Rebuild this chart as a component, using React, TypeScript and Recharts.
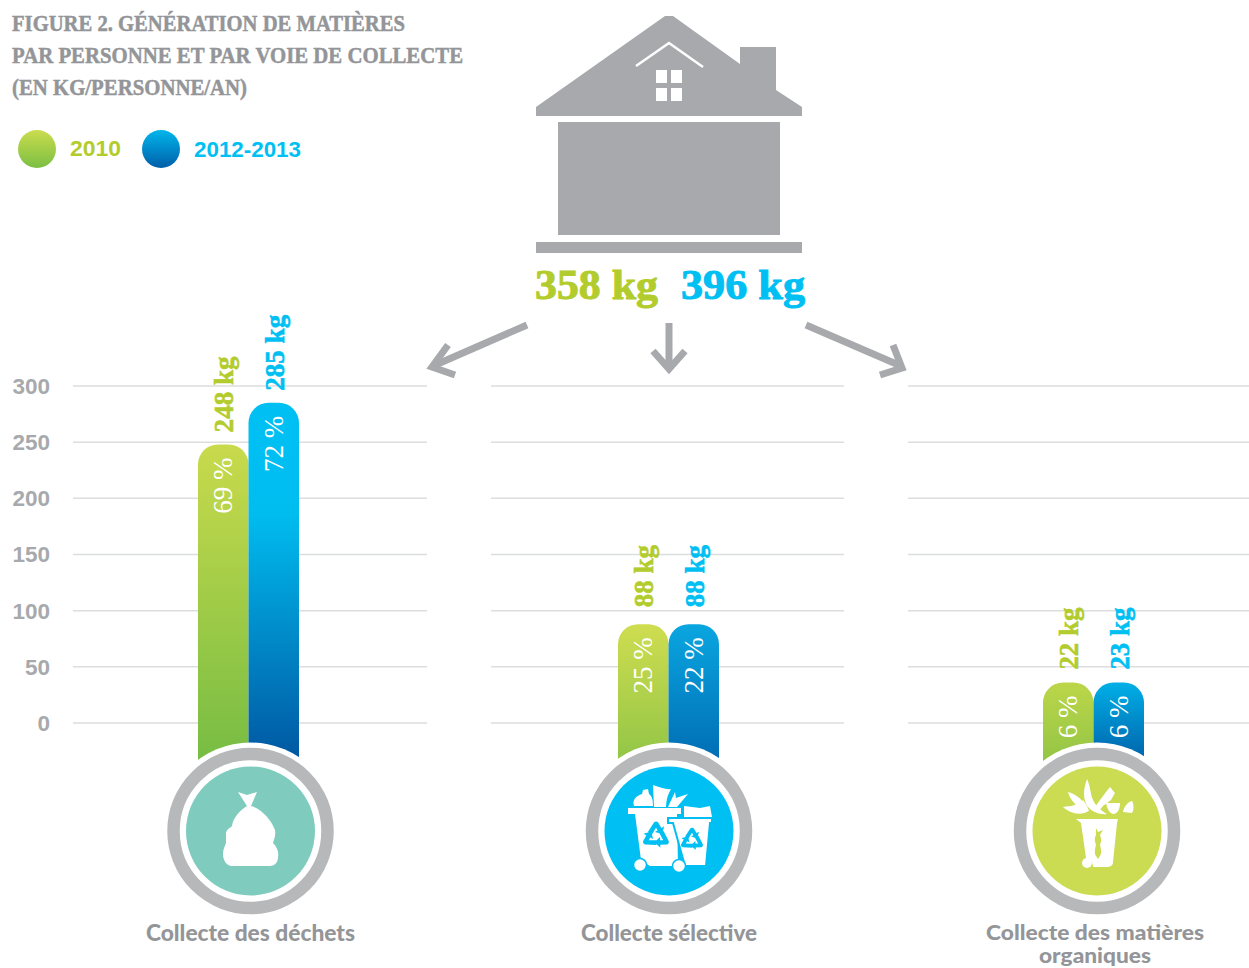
import React from "react";
import { BarChart, Bar, XAxis, YAxis, CartesianGrid, LabelList } from "recharts";

const GREY = "#a7a9ac";
const TITLE_GREY = "#939598";
const GREEN = "#b3cc2d";
const BLUE = "#00bff3";
const SLAB = "'Liberation Serif', serif";

const titleLines = [
  "FIGURE 2. GÉNÉRATION DE MATIÈRES",
  "PAR PERSONNE ET PAR VOIE DE COLLECTE",
  "(EN KG/PERSONNE/AN)",
];
const legendLabels = ["2010", "2012-2013"];
const totals = ["358 kg", "396 kg"];
const yTicks = [0, 50, 100, 150, 200, 250, 300];

// bars run on below zero until they disappear behind the round badges
const barFoot = -40;
const categories = ["Collecte des déchets", "Collecte sélective", "Collecte des matières organiques"];
// bar tops as read against the grid. The organic bars are drawn taller (about 36) than their 22 and 23 kg labels
const barTop2010 = [248, 88, 36];
const barTop2012 = [285, 88, 36];
const kg2010 = ["248 kg", "88 kg", "22 kg"];
const kg2012 = ["285 kg", "88 kg", "23 kg"];
const share2010 = ["69 %", "25 %", "6 %"];
const share2012 = ["72 %", "22 %", "6 %"];

const rowFor = (i: number) => [
  {
    name: categories[i],
    a: [barFoot, barTop2010[i]],
    b: [barFoot, barTop2012[i]],
    kgA: kg2010[i],
    kgB: kg2012[i],
    shareA: share2010[i],
    shareB: share2012[i],
  },
];

const kgLabel = (fill: string, gap: number) => (props: any) => {
  const { x, y, width, value } = props;
  const tx = x + width / 2 + 10;
  const ty = y - gap;
  return (
    <text
      x={tx}
      y={ty}
      transform={`rotate(-90 ${tx} ${ty})`}
      fill={fill}
      stroke={fill}
      strokeWidth={0.6}
      fontFamily={SLAB}
      fontWeight={700}
      fontSize={27}
      textLength={String(value).length > 5 ? 76 : 62}
      lengthAdjust="spacingAndGlyphs"
    >
      {value}
    </text>
  );
};

const shareLabel = (props: any) => {
  const { x, y, width, value } = props;
  const tx = x + width / 2 + 9;
  const ty = y + 13;
  return (
    <text
      x={tx}
      y={ty}
      transform={`rotate(-90 ${tx} ${ty})`}
      textAnchor="end"
      fill="#ffffff"
      fontFamily={SLAB}
      fontSize={27}
    >
      {value}
    </text>
  );
};

interface IPanelProps {
  index: number;
  left: number;
  width: number;
  showAxis?: boolean;
  padLeft: number;
  padRight: number;
  kgGap: number;
  greenStops: string[];
  blueStops: [string, string][];
}

const Panel: React.FunctionComponent<IPanelProps> = ({
  index,
  left,
  width,
  showAxis,
  padLeft,
  padRight,
  kgGap,
  greenStops,
  blueStops,
}) => (
  <div style={{ position: "absolute", left, top: 0 }}>
    <BarChart
      width={width}
      height={800}
      data={rowFor(index)}
      margin={{ top: 341, right: 0, bottom: 32, left: 0 }}
      barGap={0}
      barSize={50.5}
      style={{ overflow: "visible" }}
    >
      <defs>
        <linearGradient id={`green${index}`} x1="0" y1="0" x2="0" y2="1">
          <stop offset="0" stopColor={greenStops[0]} />
          <stop offset="1" stopColor={greenStops[1]} />
        </linearGradient>
        <linearGradient id={`blue${index}`} x1="0" y1="0" x2="0" y2="1">
          {blueStops.map(([o, c]) => (
            <stop key={o} offset={o} stopColor={c} />
          ))}
        </linearGradient>
      </defs>
      <CartesianGrid vertical={false} stroke="#dcddde" strokeWidth={1.5} horizontalValues={yTicks} />
      <XAxis dataKey="name" hide padding={{ left: padLeft, right: padRight }} />
      <YAxis
        hide={!showAxis}
        width={73}
        domain={[-40, 340]}
        ticks={yTicks}
        axisLine={false}
        tickLine={false}
        tickSize={0}
        tickMargin={23}
        tick={{
          fill: GREY,
          fontFamily: "'Liberation Sans', sans-serif",
          fontWeight: 700,
          fontSize: 22.5,
        }}
      />
      <Bar dataKey="a" fill={`url(#green${index})`} radius={[20, 20, 0, 0]} isAnimationActive={false}>
        <LabelList dataKey="kgA" content={kgLabel(GREEN, kgGap)} />
        <LabelList dataKey="shareA" content={shareLabel} />
      </Bar>
      <Bar dataKey="b" fill={`url(#blue${index})`} radius={[20, 20, 0, 0]} isAnimationActive={false}>
        <LabelList dataKey="kgB" content={kgLabel(BLUE, kgGap)} />
        <LabelList dataKey="shareB" content={shareLabel} />
      </Bar>
    </BarChart>
  </div>
);

const House = () => (
  <g fill={GREY}>
    <path d="M665 16 L673 16 L740 64 L740 47 L776 47 L776 90 L802 107 L802 116 L536 116 L536 107 Z" />
    <rect x={558} y={122} width={222} height={113} />
    <rect x={536} y={242} width={266} height={11} />
    <path d="M636 66 L669 43 L703 67" fill="none" stroke="#fff" strokeWidth={2.5} />
    <g fill="#fff">
      <rect x={656} y={70} width={11} height={13} />
      <rect x={671} y={70} width={11} height={13} />
      <rect x={656} y={88} width={11} height={13} />
      <rect x={671} y={88} width={11} height={13} />
    </g>
  </g>
);

const Arrows = () => (
  <g fill="none" stroke={GREY} strokeWidth={7}>
    <path d="M527 325 L433 366" />
    <path d="M448 345 L432 367 L455 375" />
    <path d="M669 323 L669 368" />
    <path d="M653 351 L669 369 L685 351" />
    <path d="M806 325 L901 366" />
    <path d="M893 345 L902 368 L880 375" />
  </g>
);

const Badge = ({ cx, fill }: { cx: number; fill: string }) => (
  <g>
    <circle cx={cx} cy={831} r={88.5} fill="#fff" />
    <circle cx={cx} cy={831} r={77} fill="#fff" stroke="#b7b8ba" strokeWidth={12.5} />
    <circle cx={cx} cy={831} r={64.5} fill={fill} />
  </g>
);

const Bag = () => (
  <path
    fill="#fff"
    d="M238 792 L247 795 L257 792 L251 806 C262 809 271 820 275 830 C276 835 274 840 273 843 C277 847 279 852 278 857 C278 863 274 866 270 866 L232 866 C227 866 223 861 223 854 C223 849 225 846 226 843 L226 833 C227 829 230 828 232 826 C233 818 240 810 247 806 Z"
  />
);

const RecycleMark = ({ cx, cy, size, color }: { cx: number; cy: number; size: number; color: string }) => (
  <g transform={`translate(${cx} ${cy}) scale(${size})`} fill={color}>
    {[0, 120, 240].map((a) => (
      <path
        key={a}
        transform={`rotate(${a})`}
        d="M-6 -3 L-1.5 -10 C-0.5 -11 0.8 -11 1.6 -10 L4 -6 L6 -7.2 L4.6 -1.4 L-0.8 -3 L1.2 -4.2 L0 -6.2 L-3 -1.2 Z"
      />
    ))}
  </g>
);

const Bins = () => (
  <g fill="#fff">
    <path d="M634 806 C632 800 636 796 642 794 L643 790 L648 789 L649 794 C652 796 653 800 653 806 Z" />
    <path d="M654 807 L653 785 C660 787 666 790 671 789 C668 794 666 800 666 807 Z" />
    <path d="M668 807 L675 792 L676 798 L688 794 L677 807 Z" />
    <path d="M684 818 L684 806 L700 808 L710 806 L712 817 Z" />
    <rect x={628} y={808} width={53} height={6} />
    <path d="M635 814 L677 814 L678 866 L650 866 L641 860 Z" />
    <circle cx={640} cy={865} r={6.5} stroke={BLUE} strokeWidth={1.5} />
    <path d="M668 818 L712 818 L712 823 L710 823 L706 866 L685 866 L673 823 L668 823 Z" stroke={BLUE} strokeWidth={2} />
    <circle cx={679} cy={866} r={6.5} stroke={BLUE} strokeWidth={1.5} />
    <RecycleMark cx={656} cy={836} size={1.35} color={BLUE} />
    <RecycleMark cx={692} cy={840} size={1.15} color={BLUE} />
  </g>
);

const OrganicBin = () => (
  <g fill="#fff">
    <path d="M1087 779 C1083 790 1083 798 1087 806 C1092 812 1100 815 1107 814 C1100 810 1093 804 1091 794 C1090 788 1089 783 1087 779 Z" />
    <path d="M1063 807 C1072 806 1078 805 1083 800 C1086 804 1088 808 1089 811 C1082 815 1072 815 1063 807 Z" />
    <path d="M1068 792 C1075 794 1079 797 1083 802 L1077 806 C1073 802 1069 797 1068 792 Z" />
    <path d="M1095 807 L1100 800 L1106 792 L1110 787 L1115 793 L1111 800 L1103 806 L1098 812 Z" />
    <path d="M1106 803 L1120 803 C1120 810 1117 814 1113 814 C1109 813 1107 808 1106 803 Z" />
    <path d="M1123 812 C1124 806 1128 802 1132 801 C1134 804 1134 810 1132 813 Z" />
    <path d="M1076 819 L1118 819 L1117 823 L1113 862 C1113 866 1110 867 1106 867 L1093 867 C1093 862 1090 859 1086 858 L1081 823 Z" />
    <circle cx={1087} cy={863} r={5} />
    <path
      fill="#cbdb52"
      d="M1096 828 L1098 832 L1103 830 L1100 835 C1102 840 1101 842 1100 845 C1101 849 1102 853 1100 856 L1098 859 L1096 856 C1094 853 1095 849 1096 845 C1095 842 1094 838 1096 835 Z"
    />
  </g>
);

const Overlay = () => (
  <svg
    width={1249}
    height={968}
    style={{ position: "absolute", left: 0, top: 0, display: "block" }}
  >
    <defs>
      <linearGradient id="legendGreen" x1="0" y1="0" x2="0" y2="1">
        <stop offset="0" stopColor="#cbdc4e" />
        <stop offset="1" stopColor="#7bbf43" />
      </linearGradient>
      <linearGradient id="legendBlue" x1="0" y1="0" x2="0" y2="1">
        <stop offset="0" stopColor="#00b6ec" />
        <stop offset="1" stopColor="#005fa9" />
      </linearGradient>
    </defs>

    <g fill={TITLE_GREY} stroke={TITLE_GREY} strokeWidth={0.5} fontFamily={SLAB} fontWeight={700} fontSize={23}>
      <text x={12} y={31} textLength={393} lengthAdjust="spacingAndGlyphs">{titleLines[0]}</text>
      <text x={12} y={63} textLength={451} lengthAdjust="spacingAndGlyphs">{titleLines[1]}</text>
      <text x={12} y={95} textLength={235} lengthAdjust="spacingAndGlyphs">{titleLines[2]}</text>
    </g>

    <circle cx={37} cy={149} r={19} fill="url(#legendGreen)" />
    <circle cx={161} cy={149} r={19} fill="url(#legendBlue)" />
    <g fontFamily="'Liberation Sans', sans-serif" fontWeight={700} fontSize={22}>
      <text x={70} y={156} fill={GREEN} textLength={51} lengthAdjust="spacingAndGlyphs">{legendLabels[0]}</text>
      <text x={194} y={157} fill={BLUE} textLength={107} lengthAdjust="spacingAndGlyphs">{legendLabels[1]}</text>
    </g>

    <House />
    <g fontFamily={SLAB} fontWeight={700} fontSize={43} strokeWidth={1}>
      <text x={535} y={299} fill={GREEN} stroke={GREEN} textLength={123} lengthAdjust="spacingAndGlyphs">{totals[0]}</text>
      <text x={681} y={299} fill={BLUE} stroke={BLUE} textLength={124} lengthAdjust="spacingAndGlyphs">{totals[1]}</text>
    </g>
    <Arrows />

    <Badge cx={250.5} fill="#7fccbe" />
    <Bag />
    <Badge cx={669} fill={BLUE} />
    <Bins />
    <Badge cx={1097} fill="#cbdb52" />
    <OrganicBin />

    <g fill={TITLE_GREY} fontFamily="Lato, sans-serif" fontWeight={900} textAnchor="middle">
      <text x={250.5} y={941} fontSize={22} textLength={209} lengthAdjust="spacingAndGlyphs">{categories[0]}</text>
      <text x={669} y={941} fontSize={22} textLength={176} lengthAdjust="spacingAndGlyphs">{categories[1]}</text>
      <text x={1095} y={940} fontSize={21} textLength={218} lengthAdjust="spacingAndGlyphs">Collecte des matières</text>
      <text x={1095} y={963} fontSize={21} textLength={112} lengthAdjust="spacingAndGlyphs">organiques</text>
    </g>
  </svg>
);

export default function App() {
  return (
    <div style={{ position: "absolute", left: 0, top: 0, width: 1249, height: 968, overflow: "hidden", background: "#fff" }}>
      <Panel
        index={0}
        left={0}
        width={427}
        showAxis
        padLeft={0}
        padRight={3}
        kgGap={12}
        greenStops={["#c9da4c", "#75bc43"]}
        blueStops={[["0", "#00c0f3"], ["0.3", "#00bdf0"], ["1", "#00549f"]]}
      />
      <Panel
        index={1}
        left={491}
        width={353}
        padLeft={1}
        padRight={0}
        kgGap={17}
        greenStops={["#cfdd50", "#8fc446"]}
        blueStops={[["0", "#0aa6e0"], ["1", "#006aB2"]]}
      />
      <Panel
        index={2}
        left={908}
        width={341}
        padLeft={30}
        padRight={0}
        kgGap={13}
        greenStops={["#bcd649", "#90c445"]}
        blueStops={[["0", "#00afe6"], ["1", "#005ca6"]]}
      />
      <Overlay />
    </div>
  );
}
